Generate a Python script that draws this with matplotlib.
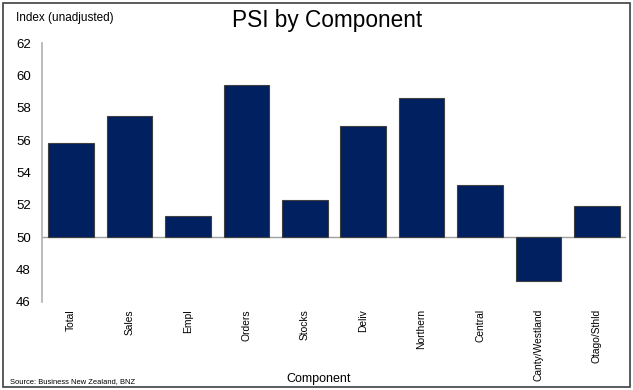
import matplotlib
matplotlib.use("Agg")
import matplotlib.pyplot as plt
from matplotlib.patches import Rectangle

components = ['Total', 'Sales', 'Empl', 'Orders', 'Stocks', 'Deliv',
              'Northern', 'Central', 'Canty/Westland', 'Otago/Sthld']
psi_values = [55.8, 57.5, 51.3, 59.4, 52.3, 56.9, 58.6, 53.2, 47.3, 51.9]
y_ticks = [46, 48, 50, 52, 54, 56, 58, 60, 62]
baseline = 50

plt.rcParams['font.family'] = ['Liberation Sans', 'DejaVu Sans']

fig = plt.figure(figsize=(6.33, 3.90), dpi=100)
ax = fig.add_axes([42/633, 1-302/390, 584/633, 259/390])

x = range(len(components))
heights = [v - baseline for v in psi_values]
ax.bar(x, heights, bottom=baseline, width=0.78, color='#002060',
       edgecolor='#404040', linewidth=0.8, zorder=2)
ax.axhline(baseline, color='#a0a0a0', linewidth=1, zorder=1)

ax.set_xlim(-0.5, len(components) - 0.5)
ax.set_ylim(46, 62)
ax.set_yticks(y_ticks)
ax.set_yticklabels([str(t) for t in y_ticks], fontsize=9.5)
ax.set_xticks(list(x))
ax.set_xticklabels(components, rotation=90, fontsize=7.4, va='top')
ax.tick_params(axis='both', length=0, pad=8)
ax.tick_params(axis='x', pad=5)

for s in ['top', 'right', 'bottom']:
    ax.spines[s].set_visible(False)
ax.spines['left'].set_color('#b0b0b0')
ax.spines['left'].set_linewidth(1.2)

fig.text(327/633, 1-21/390, 'PSI by Component', fontsize=16.3, ha='center', va='center')
fig.text(16/633, 1-18/390, 'Index (unadjusted)', fontsize=8.5, ha='left', va='center')
fig.text(319/633, 1-379/390, 'Component', fontsize=9, ha='center', va='center')
fig.text(10/633, 1-382/390, 'Source: Business New Zealand, BNZ', fontsize=5.4, ha='left', va='center')

fig.patches.append(Rectangle((3/633, 3/390), 627/633, 384/390, transform=fig.transFigure,
                             fill=False, edgecolor='#404040', linewidth=1.2))

fig.savefig('out.png', dpi=100)
